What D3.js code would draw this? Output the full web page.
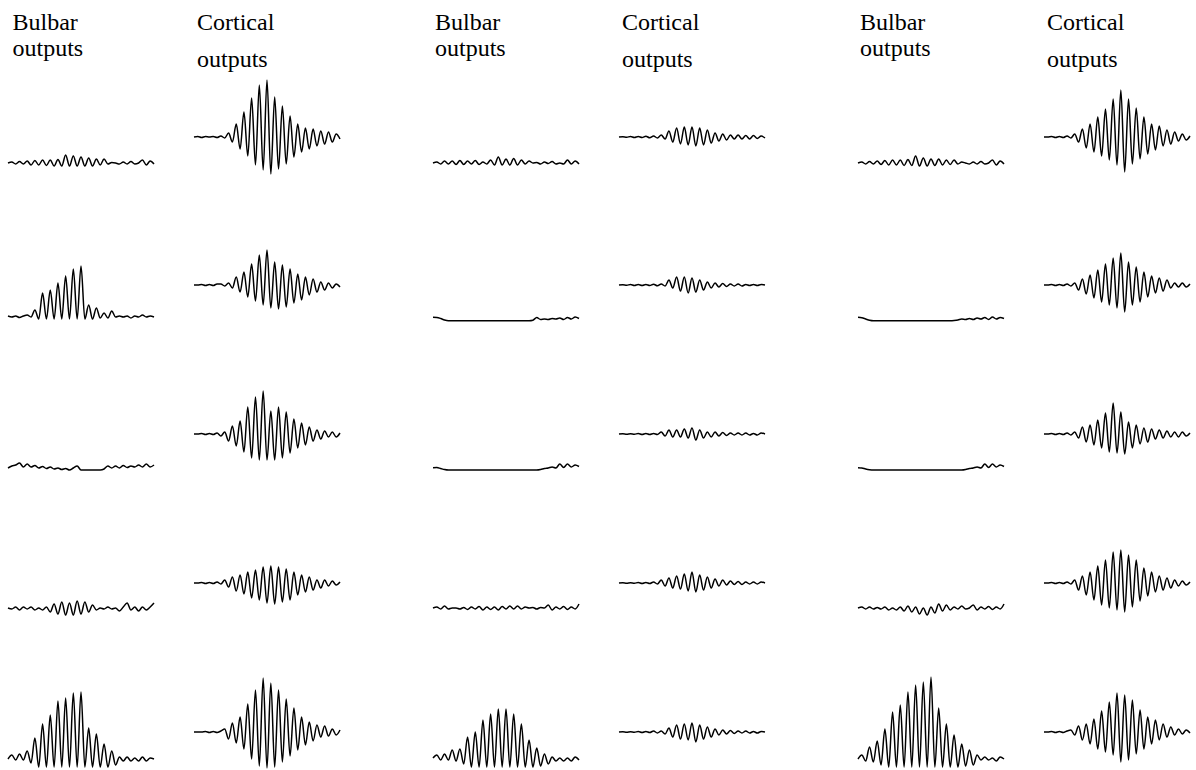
<!DOCTYPE html>
<html>
<head>
<meta charset="utf-8">
<script src="https://cdn.jsdelivr.net/npm/d3@7"></script>
<style>
  body { margin: 0; background: #fff; }
  svg text { font-family: "Liberation Serif", "DejaVu Serif", serif; font-size: 24px; fill: #000; }
</style>
</head>
<body>
<script>
// column headings
const headings = [
  ["Bulbar", "outputs"],
  ["Cortical", "outputs"]
];

// traces: one value per half cycle, amplitude above the resting line
const bulbarA = [
  [0,1,-1,1.5,-1, 2,-2,2.5,-2,3, -2.5,3,-3,3.5,-3, 8,-3,7,-3,6, -3,5,-3,4,-2, 4,-1,0.5,0,-1, 1,-1,1.5,-1,0, 3,-2,2,-1],
  [3,2,3,1.5,3, 4,2,9,0,26, 0,29,0,36,0, 43,0,50,0,53, 0,14,0,11,1, 6,1,8,2,3, 2,3,1,3,2, 4,2,3,2],
  [-1,1,2,4,0, 3,0,1.5,-1,0.5, -1.5,0,-2,-1,-2.5, -1.5,-3,-1,1,-3, -3,-3,-3,-3,-3, -2,1,-1,1,-1, 1.5,-0.5,1,0,2, 0,3,0,2],
  [0,-1,1,-2,1, -1,1,-2,0,-2, 1,-4,4,-6,6, -7,5,-7,7,-6, 6,-4,3,-2,0, -1,1,-1,0,-3, 1,5,-2,1,-3, 1,-2,1,5],
  [8,12,7,13,7, 16,4,29,0,43, 0,52,0,66,0, 69,0,74,0,75, 0,39,0,33,0, 23,0,16,2,10, 6,10,6,9,6, 10,6,9,8]
];
const corticalA = [
  [0,0.5,-0.5,0.5,0, 0.5,-0.5,1,-1,4, -5,13,-12,25,-19, 39,-28,52,-33,57, -37,40,-32,31,-27, 21,-20,13,-15,9, -12,8,-9,6,-7, 5,-5,3,-2],
  [0,0,0.5,-0.5,0.5, -0.5,1,1,-1,2, -3,8,-7,13,-12, 21,-16,30,-20,35, -23,23,-24,20,-22, 16,-18,11,-15,8, -10,6,-7,3,-5, 2,-3,1,-2],
  [0,0,0.5,-0.5,0.5, -0.5,1,-2,2,-7, 8,-12,13,-18,27, -24,37,-26,43,-26, 23,-26,27,-24,22, -19,15,-14,11,-11, 7,-7,4,-5,3, -3,2,-3,1],
  [0,0,0.5,-0.5,0.5, -0.5,1,-1,3,-4, 6,-8,8,-11,11, -15,13,-17,16,-20, 17,-21,16,-19,14, -17,11,-12,8,-9, 6,-7,3,-5,3, -3,2,-2,1],
  [0,0,0,0.5,-0.5, 0.5,-0.5,1,3,-7, 9,-11,15,-17,28, -27,42,-34,54,-36, 49,-35,42,-30,33, -24,24,-18,15,-13, 10,-9,7,-5,6, -4,3,-3,2]
];
const bulbarB = [
  [0,1,-1,2,-1, 2,-1.5,2.5,-1.5,2, -1,2.5,-1.5,1,-1, 3,-2,6,-2,4, -2,4.5,-2,3,-1, 2,0,0.5,-1,1, -0.5,1.5,-1,0,-1, 3,-1,2,-1],
  [1.7,1.5,0.5,-1,-1.7, -1.7,-1.7,-1.7,-1.7,-1.7, -1.7,-1.7,-1.7,-1.7,-1.7, -1.7,-1.7,-1.7,-1.7,-1.7, -1.7,-1.7,-1.7,-1.7,-1.7, -1.7,-1.2,1.5,-0.5,0, -0.5,0.5,0,1,-0.5, 1.5,0,2,0.5],
  [-0.7,-0.5,-1.5,-2.5,-3, -3,-3,-3,-3,-3, -3,-3,-3,-3,-3, -3,-3,-3,-3,-3, -3,-3,-3,-3,-3, -3,-3,-3,-2.5,-1.5, -1,0,-1,3,-0.5, 3,0,2,0.5],
  [0,1,-1,2,-1, 0,0,-1,0.5,-1.5, 1,-1,1.5,-2,1, -1.5,1,-2,1.5,-1, 2,-1,2,-1,1, 0,0.5,-1,0.5,0, 3,-2,1,-1,1.5, -1.5,1,-1,4],
  [9,12,7,13,7, 17,6,18,3,30, 0,35,0,47,0, 53,0,58,0,58, 0,53,0,43,0, 27,0,19,1,13, 3,10,6,9,6, 9,6,10,7]
];
const corticalB = [
  [0,0.3,-0.3,0.5,-0.5, 0.5,-0.5,0.8,-0.8,1, -1,2,-2,6,-5, 9,-7,10,-8,10, -9,9,-8,7,-6, 4,-4,3,-3,2, -2,2,-2,1.5,-2, 1.5,-1.5,1,-1],
  [0,0.3,-0.3,0.5,-0.5, 0.5,-0.5,0.5,-0.5,0.8, -0.8,1,-1,5,-3, 8,-6,8,-8,7, -7,5,-5,3,-3, 2,-2,1.5,-1.5,1, -1,1,-1,0.5,-0.5, 0.5,-0.5,0.5,0],
  [0,0.3,-0.3,0.3,-0.3, 0.5,-0.5,0.5,-0.5,0.5, -0.5,2,-2,4,-3, 4,-3,5,-4,6, -6,4,-4,2,-3, 2,-2,1.5,-1.5,1, -1,1,-1,1,-1, 0.5,-1,1,0],
  [0,0.3,-0.3,0.3,-0.3, 0.5,-0.5,0.5,-0.5,1, -1,3,-3,5,-5, 7,-6,9,-8,11, -9,8,-7,6,-5, 4,-3,3,-2,2, -1.5,1.5,-1.5,1,-1, 1,-1,1,0],
  [0,0.3,-0.3,0.3,-0.3, 0.5,-0.5,0.5,-0.5,1, -1,1,-2,4,-5, 7,-7,8,-8,9, -10,7,-7,5,-5, 3,-3,2,-2,1.5, -1.5,1,-1,1,-1, 0.5,-1,0.5,0]
];
const bulbarC = [
  [0,1,-1,1.5,-1, 2,-1.5,2.5,-2,3, -2,3,-2.5,3.5,-2.5, 7,-3,5,-3,4, -2.5,4,-2,3,-1.5, 3,-1,1,0,-1, 1,-1,1.5,-1,0, 3,-2,2,-1],
  [1.7,1.2,0,-1.2,-1.7, -1.7,-1.7,-1.7,-1.7,-1.7, -1.7,-1.7,-1.7,-1.7,-1.7, -1.7,-1.7,-1.7,-1.7,-1.7, -1.7,-1.7,-1.7,-1.7,-1.7, -1.5,-1,0,-0.5,0.5, -0.5,1,0,1.5,-0.5, 2,0,1.5,0.5],
  [-0.7,-1,-2,-2.7,-3, -3,-3,-3,-3,-3, -3,-3,-3,-3,-3, -3,-3,-3,-3,-3, -3,-3,-3,-3,-3, -3,-3,-3,-2.5,-1.5, -1,0,-1,3,-0.5, 3,0,2,0.5],
  [0,1,-1,1,-1, 0.5,-1,1,-2,0, -2,1,-3,2,-4, 1,-6,0,-7,1, -5,4,-3,3,-2, 1,-1,2,-1,0, 3,-2,1,-1,1.5, -1.5,1,-1,4],
  [8,12,6,20,5, 26,2,38,0,55, 0,62,0,75,0, 82,0,85,0,90, 0,59,0,43,0, 32,0,23,1,17, 2,12,7,10,7, 9,6,10,8]
];
const corticalC = [
  [0,0,0.5,-0.5,0.5, -0.5,1,-1,3,-5, 8,-11,13,-15,20, -19,28,-23,38,-28, 47,-35,38,-27,29, -22,20,-17,13,-13, 11,-9,7,-7,5, -4,3,-3,1],
  [0,0,0.5,-0.5,0.5, -0.5,1,-1,2,-5, 6,-9,10,-13,15, -17,21,-20,27,-23, 32,-27,23,-20,18, -17,13,-12,9,-8, 7,-6,5,-3,2, -2,2,-2,1],
  [0,0,0.5,-0.5,0.5, -0.5,1,-1,2,-4, 7,-8,9,-11,14, -14,21,-18,31,-19, 22,-20,12,-14,9, -10,6,-8,5,-5, 4,-4,3,-3,2, -3,2,-2,1],
  [0,0,0.5,-0.5,0.5, -0.5,1,-1,3,-7, 7,-12,11,-17,17, -22,23,-25,31,-27, 33,-29,28,-24,23, -18,15,-13,11,-9, 7,-7,5,-5,3, -3,2,-2,1],
  [0,0,0.5,-0.5,0.5, -0.5,1,2,-3,6, -8,8,-12,13,-17, 21,-20,30,-23,39, -30,37,-28,32,-22, 22,-17,15,-12,12, -8,8,-5,5,-3, 3,-2,2,-1]
];

const groups = [
  {bulbar: bulbarA, cortical: corticalA},
  {bulbar: bulbarB, cortical: corticalB},
  {bulbar: bulbarC, cortical: corticalC}
];

const width = 1196, height = 770;
const groupX = [8, 433, 858];
const corticalShift = 186;
const bulbarTitleX = [12.5, 435, 860];
const corticalTitleX = [197, 622, 1047];
const bulbarBase = [163, 319, 467, 608, 767];
const corticalBase = [137, 285, 434, 583, 732];
const traceW = 146;

const svg = d3.select("body").append("svg")
  .attr("width", width)
  .attr("height", height);

const x = d3.scaleLinear().domain([0, 38]).range([0, traceW]);
const y = d3.scaleLinear().domain([-100, 100]).range([100, -100]);

const line = d3.line()
  .x((d, i) => x(i))
  .y(d => y(d))
  .curve(d3.curveMonotoneX);

groups.forEach((g, gi) => {
  const gx = groupX[gi];

  // headings
  const hb = svg.append("text").attr("y", 30);
  hb.append("tspan").attr("x", bulbarTitleX[gi]).text(headings[0][0]);
  hb.append("tspan").attr("x", bulbarTitleX[gi]).attr("y", 55.5).text(headings[0][1]);
  const hc = svg.append("text").attr("y", 30);
  hc.append("tspan").attr("x", corticalTitleX[gi]).text(headings[1][0]);
  hc.append("tspan").attr("x", corticalTitleX[gi]).attr("y", 67).text(headings[1][1]);

  g.bulbar.forEach((trace, r) => {
    svg.append("path")
      .attr("transform", `translate(${gx},${bulbarBase[r]})`)
      .attr("d", line(trace))
      .attr("fill", "none")
      .attr("stroke", "#000")
      .attr("stroke-width", 1.5);
  });
  g.cortical.forEach((trace, r) => {
    svg.append("path")
      .attr("transform", `translate(${gx + corticalShift},${corticalBase[r]})`)
      .attr("d", line(trace))
      .attr("fill", "none")
      .attr("stroke", "#000")
      .attr("stroke-width", 1.5);
  });
});
</script>
</body>
</html>
